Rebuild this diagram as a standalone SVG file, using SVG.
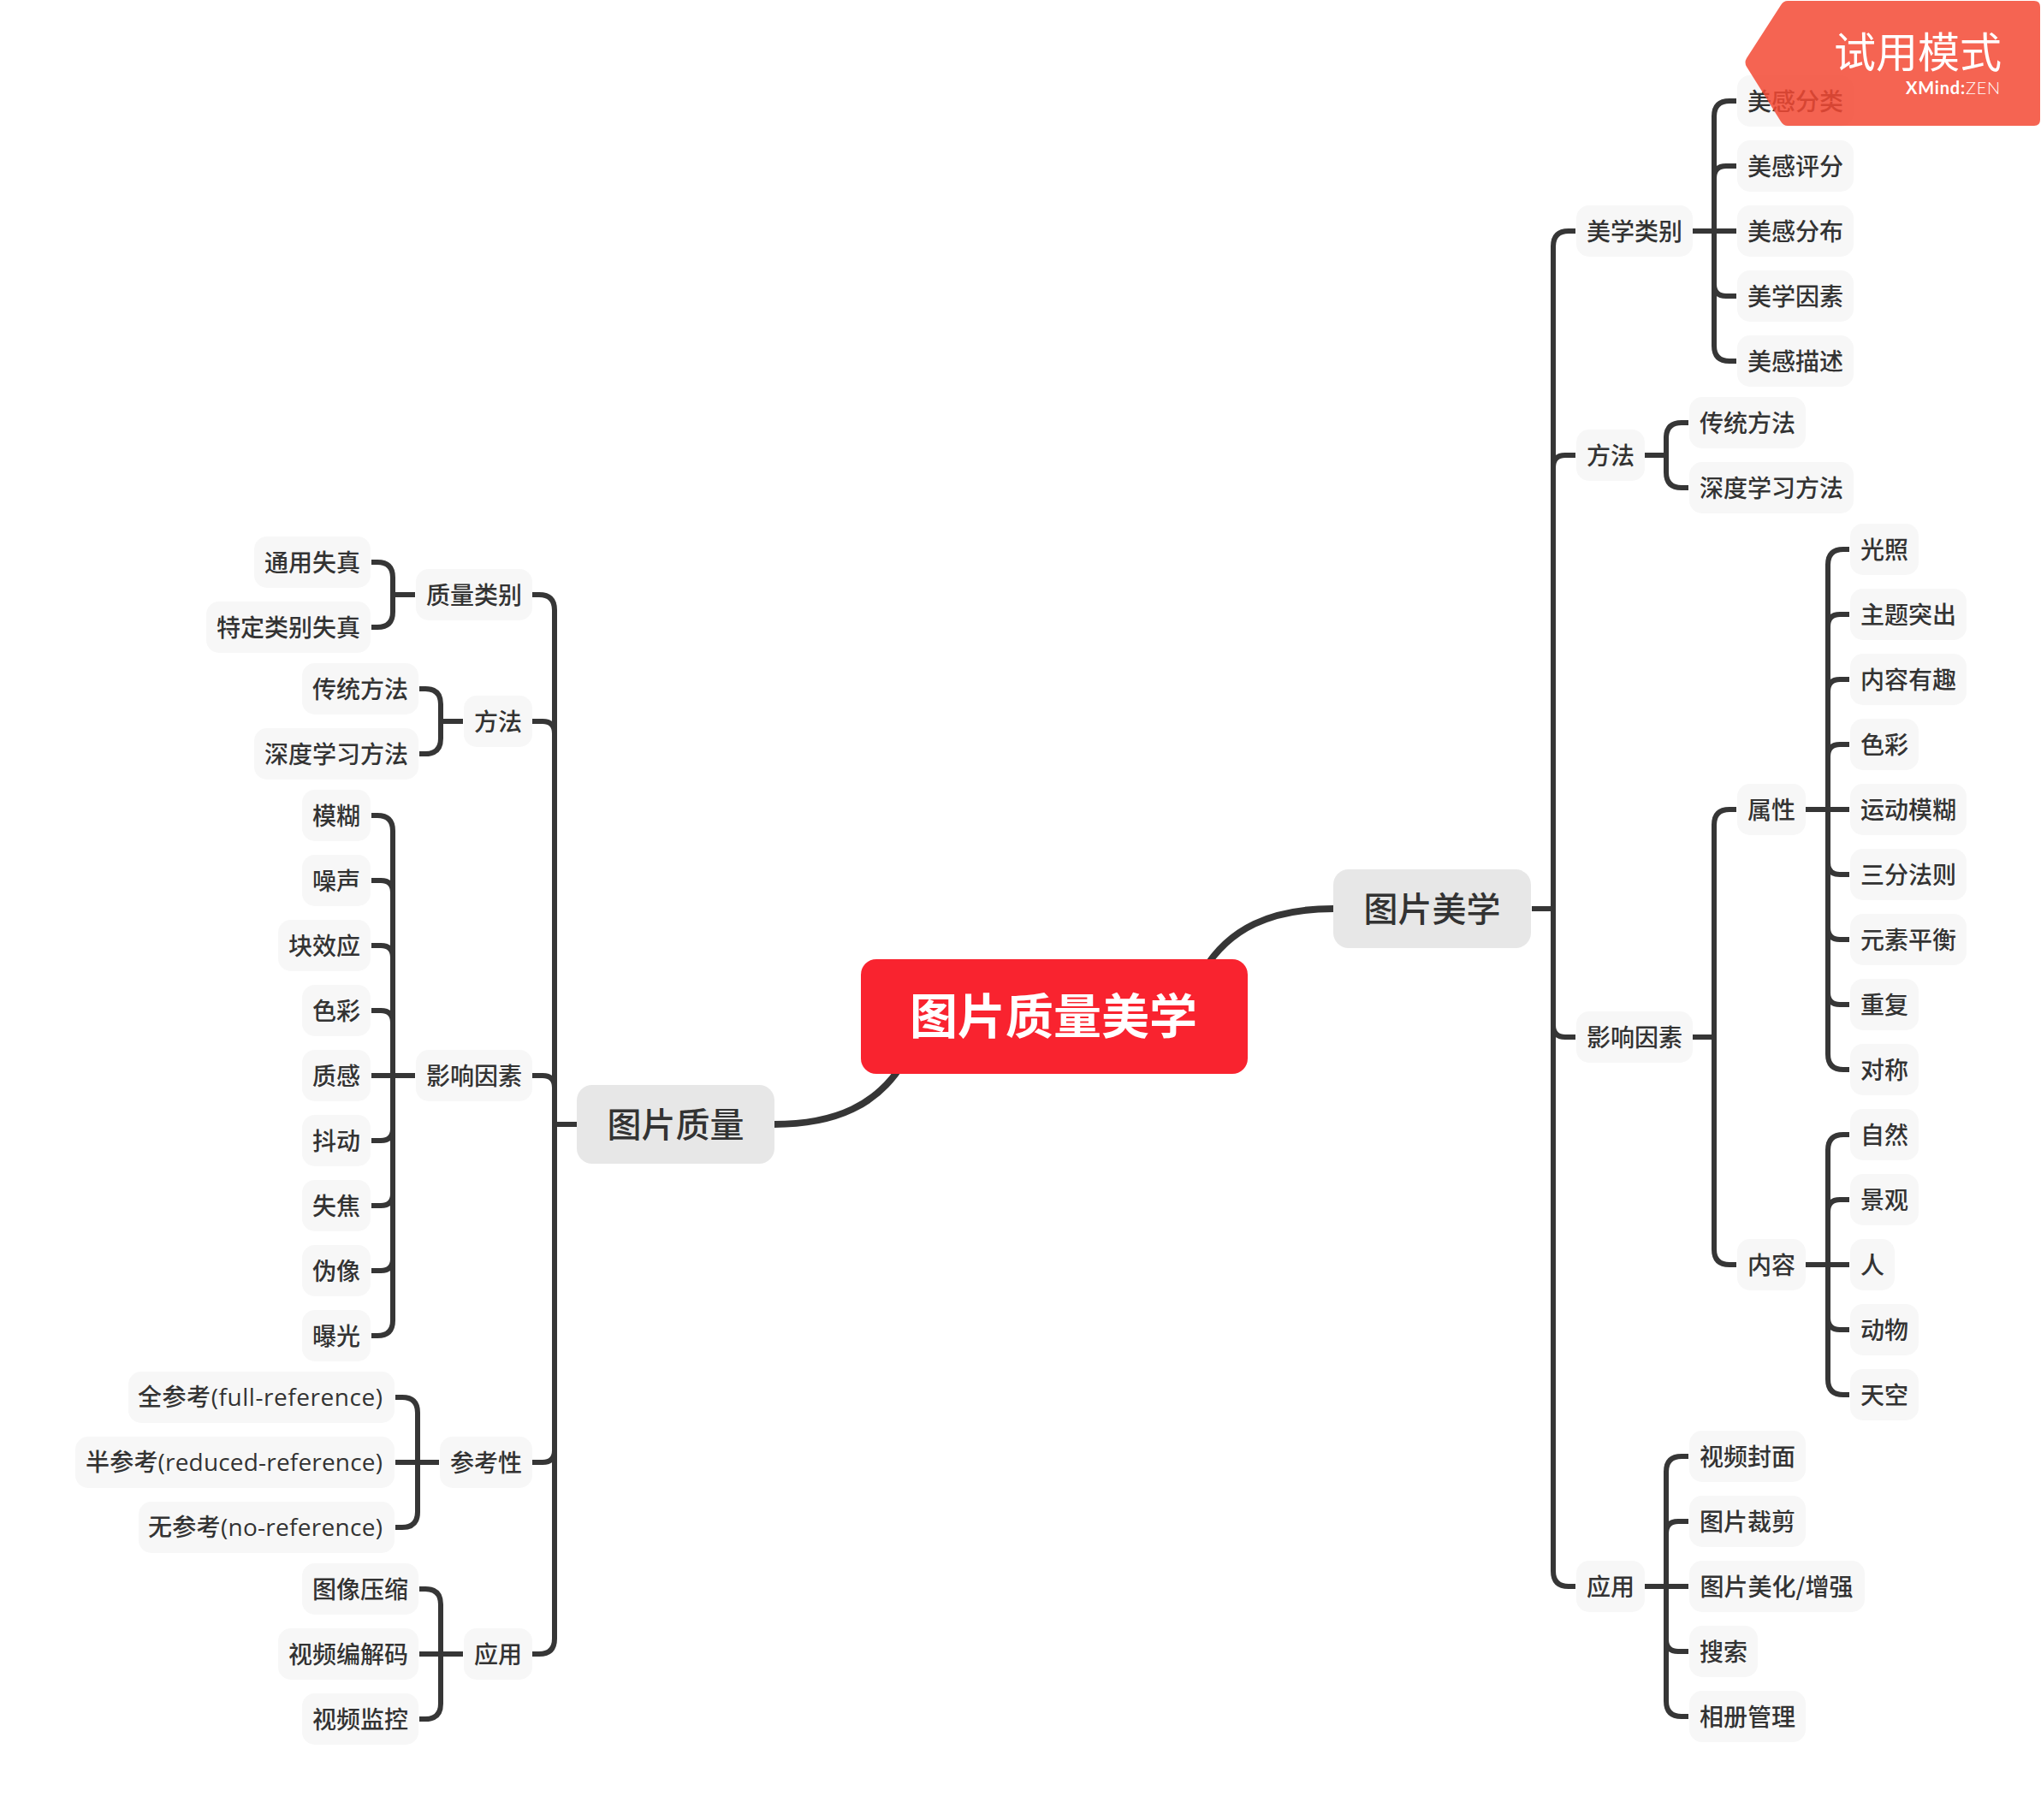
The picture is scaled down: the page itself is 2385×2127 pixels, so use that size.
<svg xmlns="http://www.w3.org/2000/svg" width="2385" height="2127" viewBox="0 0 2385 2127">
<style>
text{font-family:"Noto Sans CJK SC","Noto Sans",sans-serif;text-anchor:middle;fill:#333;font-size:28px;font-weight:500}
.c{fill:none;stroke:#363636;stroke-width:6}
.m{fill:none;stroke:#363636;stroke-width:8}
.l rect{fill:#f7f7f7;rx:15px}
.t rect{fill:#e7e7e7;rx:18px}
.t text{font-size:40px}
.lat{font-family:"Open Sans","Noto Sans CJK SC",sans-serif;font-weight:500}
#root rect{fill:#f9232f;rx:18px}
#root text{fill:#fff;font-size:56px;font-weight:700}
#watermark path{fill:#f34934;fill-opacity:.85}
#watermark text{fill:#fff;text-anchor:end}
#watermark .big{font-size:49px;font-weight:400}
#watermark .brand{font-size:20px;font-family:Lato,sans-serif;font-weight:700;letter-spacing:.8px}
#watermark .brand tspan{font-weight:300}
</style>
<rect width="2385" height="2127" fill="#fff"/>
<g id="connectors">
<path class="m" d="M1558,1062C1485,1062 1436,1085 1406,1135"/>
<path class="m" d="M904,1314C977,1314 1026,1291 1056,1241"/>
<path class="c" d="M1790,1062H1815M1841,270H1833Q1815,270 1815,288V1836Q1815,1854 1833,1854H1841M1841,532H1829Q1815,532 1815,546M1841,1212H1829Q1815,1212 1815,1198"/>
<path class="c" d="M2029,118H2021Q2003,118 2003,136V404Q2003,422 2021,422H2029M2029,194H2017Q2003,194 2003,208M2029,346H2017Q2003,346 2003,332M1978,270H2029"/>
<path class="c" d="M1973,494H1965Q1947,494 1947,512V552Q1947,570 1965,570H1973M1922,532H1947"/>
<path class="c" d="M2029,946H2021Q2003,946 2003,964V1460Q2003,1478 2021,1478H2029M1978,1212H2003"/>
<path class="c" d="M2161,642H2154Q2136,642 2136,660V1232Q2136,1250 2154,1250H2161M2161,718H2150Q2136,718 2136,732M2161,794H2150Q2136,794 2136,808M2161,870H2150Q2136,870 2136,884M2161,1022H2150Q2136,1022 2136,1008M2161,1098H2150Q2136,1098 2136,1084M2161,1174H2150Q2136,1174 2136,1160M2110,946H2161"/>
<path class="c" d="M2161,1326H2154Q2136,1326 2136,1344V1612Q2136,1630 2154,1630H2161M2161,1402H2150Q2136,1402 2136,1416M2161,1554H2150Q2136,1554 2136,1540M2110,1478H2161"/>
<path class="c" d="M1973,1702H1965Q1947,1702 1947,1720V1988Q1947,2006 1965,2006H1973M1973,1778H1961Q1947,1778 1947,1792M1973,1930H1961Q1947,1930 1947,1916M1922,1854H1973"/>
<path class="c" d="M674,1314H648M622,695H630Q648,695 648,713V1915Q648,1933 630,1933H622M622,843H634Q648,843 648,857M622,1257H634Q648,1257 648,1271M622,1709H634Q648,1709 648,1695"/>
<path class="c" d="M434,657H441Q459,657 459,675V715Q459,733 441,733H434M485,695H459"/>
<path class="c" d="M490,805H497Q515,805 515,823V863Q515,881 497,881H490M541,843H515"/>
<path class="c" d="M434,953H441Q459,953 459,971V1543Q459,1561 441,1561H434M434,1029H445Q459,1029 459,1043M434,1105H445Q459,1105 459,1119M434,1181H445Q459,1181 459,1195M434,1333H445Q459,1333 459,1319M434,1409H445Q459,1409 459,1395M434,1485H445Q459,1485 459,1471M434,1257H485"/>
<path class="c" d="M462,1633H470Q488,1633 488,1651V1767Q488,1785 470,1785H462M462,1709H513"/>
<path class="c" d="M490,1857H497Q515,1857 515,1875V1991Q515,2009 497,2009H490M490,1933H541"/>
</g>
<g id="root"><rect x="1006" y="1121" width="452" height="134"/><text x="1231" y="1208">图片质量美学</text></g>
<g id="t1" class="t"><rect x="1558" y="1016" width="231" height="92"/><text x="1673.500" y="1077">图片美学</text></g>
<g id="t2" class="t"><rect x="674" y="1268" width="231" height="92"/><text x="789.500" y="1329">图片质量</text></g>
<g id="r1" class="l"><rect x="1842" y="240" width="136" height="60"/><text x="1910" y="281">美学类别</text></g>
<g id="r11" class="l"><rect x="2030" y="88" width="136" height="60"/><text x="2098" y="129">美感分类</text></g>
<g id="r12" class="l"><rect x="2030" y="164" width="136" height="60"/><text x="2098" y="205">美感评分</text></g>
<g id="r13" class="l"><rect x="2030" y="240" width="136" height="60"/><text x="2098" y="281">美感分布</text></g>
<g id="r14" class="l"><rect x="2030" y="316" width="136" height="60"/><text x="2098" y="357">美学因素</text></g>
<g id="r15" class="l"><rect x="2030" y="392" width="136" height="60"/><text x="2098" y="433">美感描述</text></g>
<g id="r2" class="l"><rect x="1842" y="502" width="80" height="60"/><text x="1882" y="543">方法</text></g>
<g id="r21" class="l"><rect x="1974" y="464" width="136" height="60"/><text x="2042" y="505">传统方法</text></g>
<g id="r22" class="l"><rect x="1974" y="540" width="192" height="60"/><text x="2070" y="581">深度学习方法</text></g>
<g id="r3" class="l"><rect x="1842" y="1182" width="136" height="60"/><text x="1910" y="1223">影响因素</text></g>
<g id="r31" class="l"><rect x="2030" y="916" width="80" height="60"/><text x="2070" y="957">属性</text></g>
<g id="r311" class="l"><rect x="2162" y="612" width="80" height="60"/><text x="2202" y="653">光照</text></g>
<g id="r312" class="l"><rect x="2162" y="688" width="136" height="60"/><text x="2230" y="729">主题突出</text></g>
<g id="r313" class="l"><rect x="2162" y="764" width="136" height="60"/><text x="2230" y="805">内容有趣</text></g>
<g id="r314" class="l"><rect x="2162" y="840" width="80" height="60"/><text x="2202" y="881">色彩</text></g>
<g id="r315" class="l"><rect x="2162" y="916" width="136" height="60"/><text x="2230" y="957">运动模糊</text></g>
<g id="r316" class="l"><rect x="2162" y="992" width="136" height="60"/><text x="2230" y="1033">三分法则</text></g>
<g id="r317" class="l"><rect x="2162" y="1068" width="136" height="60"/><text x="2230" y="1109">元素平衡</text></g>
<g id="r318" class="l"><rect x="2162" y="1144" width="80" height="60"/><text x="2202" y="1185">重复</text></g>
<g id="r319" class="l"><rect x="2162" y="1220" width="80" height="60"/><text x="2202" y="1261">对称</text></g>
<g id="r32" class="l"><rect x="2030" y="1448" width="80" height="60"/><text x="2070" y="1489">内容</text></g>
<g id="r321" class="l"><rect x="2162" y="1296" width="80" height="60"/><text x="2202" y="1337">自然</text></g>
<g id="r322" class="l"><rect x="2162" y="1372" width="80" height="60"/><text x="2202" y="1413">景观</text></g>
<g id="r323" class="l"><rect x="2162" y="1448" width="52" height="60"/><text x="2188" y="1489">人</text></g>
<g id="r324" class="l"><rect x="2162" y="1524" width="80" height="60"/><text x="2202" y="1565">动物</text></g>
<g id="r325" class="l"><rect x="2162" y="1600" width="80" height="60"/><text x="2202" y="1641">天空</text></g>
<g id="r4" class="l"><rect x="1842" y="1824" width="80" height="60"/><text x="1882" y="1865">应用</text></g>
<g id="r41" class="l"><rect x="1974" y="1672" width="136" height="60"/><text x="2042" y="1713">视频封面</text></g>
<g id="r42" class="l"><rect x="1974" y="1748" width="136" height="60"/><text x="2042" y="1789">图片裁剪</text></g>
<g id="r43" class="l"><rect x="1974" y="1824" width="205" height="60"/><text x="2076" y="1865">图片美化/增强</text></g>
<g id="r44" class="l"><rect x="1974" y="1900" width="80" height="60"/><text x="2014" y="1941">搜索</text></g>
<g id="r45" class="l"><rect x="1974" y="1976" width="136" height="60"/><text x="2042" y="2017">相册管理</text></g>
<g id="q1" class="l"><rect x="486" y="665" width="136" height="60"/><text x="554" y="706">质量类别</text></g>
<g id="q11" class="l"><rect x="297" y="627" width="136" height="60"/><text x="365" y="668">通用失真</text></g>
<g id="q12" class="l"><rect x="241" y="703" width="192" height="60"/><text x="337" y="744">特定类别失真</text></g>
<g id="q2" class="l"><rect x="542" y="813" width="80" height="60"/><text x="582" y="854">方法</text></g>
<g id="q21" class="l"><rect x="353" y="775" width="136" height="60"/><text x="421" y="816">传统方法</text></g>
<g id="q22" class="l"><rect x="297" y="851" width="192" height="60"/><text x="393" y="892">深度学习方法</text></g>
<g id="q3" class="l"><rect x="486" y="1227" width="136" height="60"/><text x="554" y="1268">影响因素</text></g>
<g id="q31" class="l"><rect x="353" y="923" width="80" height="60"/><text x="393" y="964">模糊</text></g>
<g id="q32" class="l"><rect x="353" y="999" width="80" height="60"/><text x="393" y="1040">噪声</text></g>
<g id="q33" class="l"><rect x="325" y="1075" width="108" height="60"/><text x="379" y="1116">块效应</text></g>
<g id="q34" class="l"><rect x="353" y="1151" width="80" height="60"/><text x="393" y="1192">色彩</text></g>
<g id="q35" class="l"><rect x="353" y="1227" width="80" height="60"/><text x="393" y="1268">质感</text></g>
<g id="q36" class="l"><rect x="353" y="1303" width="80" height="60"/><text x="393" y="1344">抖动</text></g>
<g id="q37" class="l"><rect x="353" y="1379" width="80" height="60"/><text x="393" y="1420">失焦</text></g>
<g id="q38" class="l"><rect x="353" y="1455" width="80" height="60"/><text x="393" y="1496">伪像</text></g>
<g id="q39" class="l"><rect x="353" y="1531" width="80" height="60"/><text x="393" y="1572">曝光</text></g>
<g id="q4" class="l"><rect x="514" y="1679" width="108" height="60"/><text x="568" y="1720">参考性</text></g>
<g id="q41" class="l"><rect x="150" y="1603" width="311" height="60"/><text class="lat" x="304" y="1643" textLength="286">全参考(full-reference)</text></g>
<g id="q42" class="l"><rect x="88" y="1679" width="373" height="60"/><text class="lat" x="273.500" y="1719" textLength="347">半参考(reduced-reference)</text></g>
<g id="q43" class="l"><rect x="162" y="1755" width="299" height="60"/><text class="lat" x="310" y="1795" textLength="274">无参考(no-reference)</text></g>
<g id="q5" class="l"><rect x="542" y="1903" width="80" height="60"/><text x="582" y="1944">应用</text></g>
<g id="q51" class="l"><rect x="353" y="1827" width="136" height="60"/><text x="421" y="1868">图像压缩</text></g>
<g id="q52" class="l"><rect x="325" y="1903" width="164" height="60"/><text x="407" y="1944">视频编解码</text></g>
<g id="q53" class="l"><rect x="353" y="1979" width="136" height="60"/><text x="421" y="2020">视频监控</text></g>
<g id="watermark">
<path d="M2089,1H2377Q2384,1 2384,8V140Q2384,147 2377,147H2089Q2084,147 2081,142L2041,78Q2038,73 2041,68L2081,6Q2084,1 2089,1Z"/>
<text class="big" x="2339" y="79">试用模式</text>
<text class="brand" x="2338" y="110">XMind:<tspan>ZEN</tspan></text>
</g>
</svg>
